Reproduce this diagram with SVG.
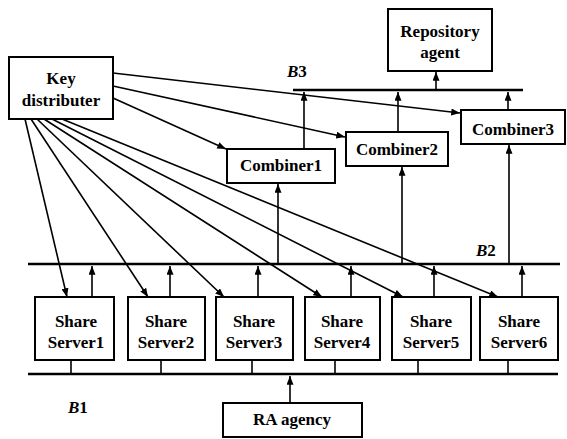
<svg xmlns="http://www.w3.org/2000/svg" width="567" height="439" viewBox="0 0 567 439">
<defs>
<marker id="ah" viewBox="0 0 10 8" refX="10" refY="4" markerWidth="9" markerHeight="7" markerUnits="userSpaceOnUse" orient="auto">
<path d="M0,0 L10,4 L0,8 Z" fill="#000"/>
</marker>
</defs>
<style>
.box{fill:#fff;stroke:#000;stroke-width:2}
.t{font-family:"Liberation Serif","Times New Roman",serif;font-weight:bold;font-size:17px;text-anchor:middle;fill:#000}
.lbl{font-family:"Liberation Serif","Times New Roman",serif;font-weight:bold;font-size:17px;fill:#000}
.bus{stroke:#000;stroke-width:2.5;fill:none}
.c{stroke:#000;stroke-width:1.6;fill:none}
.a{stroke:#000;stroke-width:1.6;fill:none;marker-end:url(#ah)}
</style>
<rect width="567" height="439" fill="#fff"/>
<g id="connectors">
<line class="bus" x1="293" y1="90" x2="523" y2="90"/>
<line class="bus" x1="28" y1="264" x2="560" y2="264"/>
<line class="bus" x1="28" y1="374" x2="558" y2="374"/>
<line class="a" x1="113" y1="73" x2="460" y2="113"/>
<line class="a" x1="113" y1="86" x2="345" y2="137"/>
<line class="a" x1="113" y1="98" x2="226" y2="149"/>
<line class="a" x1="25" y1="119" x2="67" y2="297"/>
<line class="a" x1="31" y1="119" x2="148" y2="297"/>
<line class="a" x1="37" y1="119" x2="224" y2="297"/>
<line class="a" x1="44" y1="119" x2="322" y2="297"/>
<line class="a" x1="52" y1="119" x2="403" y2="297"/>
<line class="a" x1="62" y1="119" x2="498" y2="297"/>
<line class="a" x1="92" y1="297" x2="92" y2="266"/>
<line class="a" x1="170" y1="297" x2="170" y2="266"/>
<line class="a" x1="258" y1="297" x2="258" y2="266"/>
<line class="a" x1="351" y1="297" x2="351" y2="266"/>
<line class="a" x1="434" y1="297" x2="434" y2="266"/>
<line class="a" x1="522" y1="297" x2="522" y2="266"/>
<line class="c" x1="71" y1="360" x2="71" y2="374"/>
<line class="c" x1="161" y1="360" x2="161" y2="374"/>
<line class="c" x1="252" y1="360" x2="252" y2="374"/>
<line class="c" x1="335" y1="360" x2="335" y2="374"/>
<line class="c" x1="418" y1="360" x2="418" y2="374"/>
<line class="c" x1="508" y1="360" x2="508" y2="374"/>
<line class="a" x1="290" y1="403" x2="290" y2="376"/>
<line class="a" x1="278" y1="264" x2="278" y2="184"/>
<line class="a" x1="402" y1="264" x2="402" y2="167"/>
<line class="a" x1="509" y1="264" x2="509" y2="145"/>
<line class="a" x1="304" y1="149" x2="304" y2="92"/>
<line class="a" x1="398" y1="132" x2="398" y2="92"/>
<line class="a" x1="508" y1="110" x2="508" y2="92"/>
<line class="a" x1="436" y1="90" x2="436" y2="72"/>
</g>
<g id="key-distributer"><rect class="box" x="9" y="57" width="104" height="62"/><text class="t" x="61" y="84">Key</text><text class="t" x="61" y="106">distributer</text></g>
<g id="repository-agent"><rect class="box" x="388" y="9" width="104" height="62"/><text class="t" x="440" y="37">Repository</text><text class="t" x="440" y="58">agent</text></g>
<g id="combiner1"><rect class="box" x="227" y="149" width="108" height="34"/><text class="t" x="281" y="171">Combiner1</text></g>
<g id="combiner2"><rect class="box" x="346" y="132" width="102" height="34"/><text class="t" x="397" y="155">Combiner2</text></g>
<g id="combiner3"><rect class="box" x="461" y="110" width="104" height="34"/><text class="t" x="513" y="135">Combiner3</text></g>
<g id="share-server1"><rect class="box" x="35" y="297" width="79" height="63"/><text class="t" x="76" y="327">Share</text><text class="t" x="76" y="348">Server1</text></g>
<g id="share-server2"><rect class="box" x="128" y="297" width="77" height="63"/><text class="t" x="166" y="327">Share</text><text class="t" x="166" y="348">Server2</text></g>
<g id="share-server3"><rect class="box" x="216" y="297" width="77" height="63"/><text class="t" x="254" y="327">Share</text><text class="t" x="254" y="348">Server3</text></g>
<g id="share-server4"><rect class="box" x="305" y="297" width="75" height="63"/><text class="t" x="342" y="327">Share</text><text class="t" x="342" y="348">Server4</text></g>
<g id="share-server5"><rect class="box" x="392" y="297" width="79" height="63"/><text class="t" x="431" y="327">Share</text><text class="t" x="431" y="348">Server5</text></g>
<g id="share-server6"><rect class="box" x="480" y="297" width="78" height="63"/><text class="t" x="519" y="327">Share</text><text class="t" x="519" y="348">Server6</text></g>
<g id="ra-agency"><rect class="box" x="223" y="403" width="139" height="34"/><text class="t" x="292" y="425">RA agency</text></g>
<g id="bus-labels">
<text class="lbl" x="287" y="77"><tspan font-style="italic">B</tspan>3</text>
<text class="lbl" x="476" y="256"><tspan font-style="italic">B</tspan>2</text>
<text class="lbl" x="68" y="413"><tspan font-style="italic">B</tspan>1</text>
</g>
</svg>
